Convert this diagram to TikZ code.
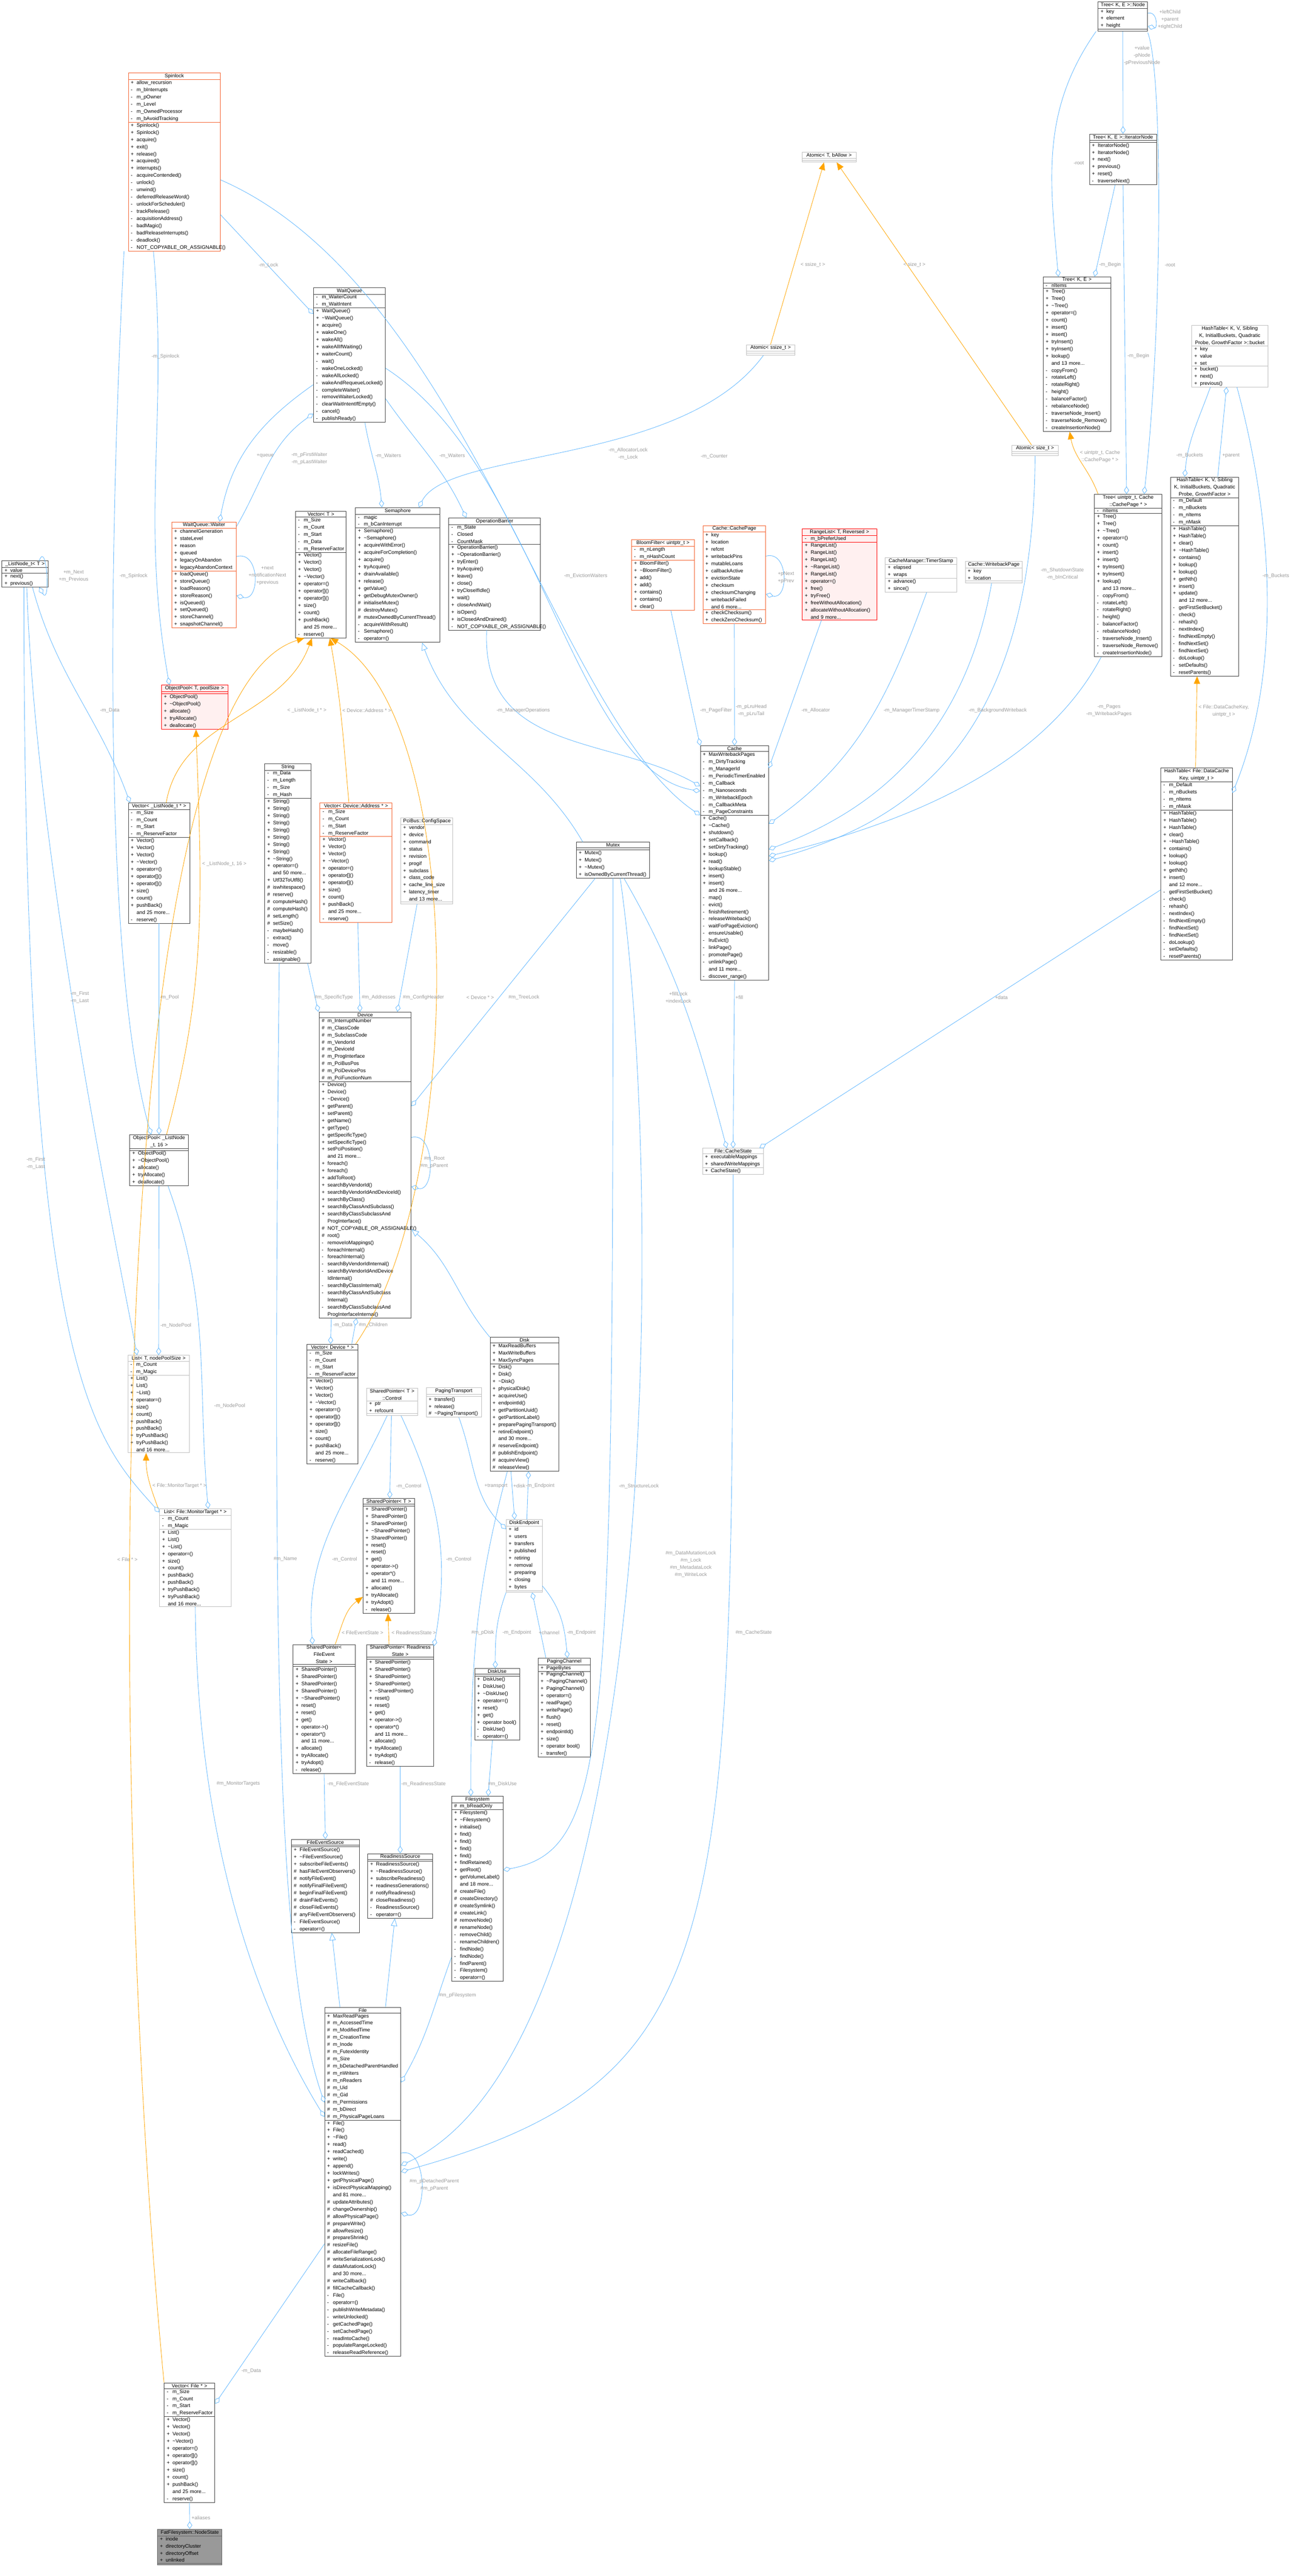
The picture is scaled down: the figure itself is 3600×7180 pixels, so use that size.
\documentclass[tikz,border=0pt]{standalone}
\usepackage{fontspec}
\setmainfont{Liberation Sans}
\usetikzlibrary{shapes.multipart,arrows.meta}

\definecolor{edgeblue}{HTML}{63B8FF}
\definecolor{edgeorange}{HTML}{FFA500}
\definecolor{lblgray}{HTML}{9A9A9A}
\definecolor{boxline}{HTML}{404040}
\definecolor{boxgray}{HTML}{BFBFBF}
\definecolor{boxhot}{HTML}{F4602C}
\definecolor{boxred}{HTML}{FF0000}
\definecolor{boxpink}{HTML}{FFF0F0}
\definecolor{boxfill}{HTML}{999999}
\definecolor{boxdark}{HTML}{666666}

\newcommand\clsfont{\fontsize{4}{5.69}\selectfont}
\newcommand\mytil{\textasciitilde}
\newcommand\mpu[1]{\makebox[4.6pt][l]{+}#1}
\newcommand\mpv[1]{\makebox[4.6pt][l]{-}#1}
\newcommand\mpt[1]{\makebox[4.6pt][l]{\#}#1}
\newcommand\mmo[1]{\makebox[4.6pt][l]{}#1}

% member lists that repeat
\newcommand\vecattrs{\mpv{m\_Size}\\\mpv{m\_Count}\\\mpv{m\_Start}\\\mpv{m\_ReserveFactor}}
\newcommand\vecmeths{\mpu{Vector()}\\\mpu{Vector()}\\\mpu{Vector()}\\\mpu{\mytil Vector()}\\\mpu{operator=()}\\\mpu{operator[]()}\\\mpu{operator[]()}\\\mpu{size()}\\\mpu{count()}\\\mpu{pushBack()}\\\mmo{and 25 more...}\\\mpv{reserve()}}
\newcommand\treemeths{\mpu{Tree()}\\\mpu{Tree()}\\\mpu{\mytil Tree()}\\\mpu{operator=()}\\\mpu{count()}\\\mpu{insert()}\\\mpu{insert()}\\\mpu{tryInsert()}\\\mpu{tryInsert()}\\\mpu{lookup()}\\\mmo{and 13 more...}\\\mpv{copyFrom()}\\\mpv{rotateLeft()}\\\mpv{rotateRight()}\\\mpv{height()}\\\mpv{balanceFactor()}\\\mpv{rebalanceNode()}\\\mpv{traverseNode\_Insert()}\\\mpv{traverseNode\_Remove()}\\\mpv{createInsertionNode()}}
\newcommand\htattrs{\mpv{m\_Default}\\\mpv{m\_nBuckets}\\\mpv{m\_nItems}\\\mpv{m\_nMask}}
\newcommand\httail{\mmo{and 12 more...}\\\mpv{getFirstSetBucket()}\\\mpv{check()}\\\mpv{rehash()}\\\mpv{nextIndex()}\\\mpv{findNextEmpty()}\\\mpv{findNextSet()}\\\mpv{findNextSet()}\\\mpv{doLookup()}\\\mpv{setDefaults()}\\\mpv{resetParents()}}
\newcommand\listmeths{\mpu{List()}\\\mpu{List()}\\\mpu{\mytil List()}\\\mpu{operator=()}\\\mpu{size()}\\\mpu{count()}\\\mpu{pushBack()}\\\mpu{pushBack()}\\\mpu{tryPushBack()}\\\mpu{tryPushBack()}\\\mmo{and 16 more...}}
\newcommand\sptail{\mpu{reset()}\\\mpu{reset()}\\\mpu{get()}\\\mpu{operator->()}\\\mpu{operator*()}\\\mmo{and 11 more...}\\\mpu{allocate()}\\\mpu{tryAllocate()}\\\mpu{tryAdopt()}\\\mpv{release()}}
\newcommand\poolmeths{\mpu{ObjectPool()}\\\mpu{\mytil ObjectPool()}\\\mpu{allocate()}\\\mpu{tryAllocate()}\\\mpu{deallocate()}}

% one class box: name, x, y, width (px), style, header, attributes, methods
\newcommand\cls[8]{%
  \pgfmathsetlengthmacro\clsw{#4*0.01cm-4pt}%
  \node[cls,#5,text width=\clsw] (#1) at (#2,#3)
    {\parbox{\clsw}{\centering #6}\nodepart{second}#7\nodepart{third}#8};}

\tikzset{
  cls/.style={rectangle split, rectangle split parts=3, draw=boxline, fill=white,
    line width=0.35pt, anchor=north west, inner xsep=2pt, inner ysep=0.6pt,
    align=left, font=\clsfont, rectangle split empty part height=0.12cm},
  hot/.style={draw=boxhot},
  trunc/.style={draw=boxred, fill=boxpink},
  undoc/.style={draw=boxgray},
  focus/.style={draw=boxdark, fill=boxfill},
  lbl/.style={font=\clsfont, text=lblgray, align=center, inner sep=0pt},
  comp/.style={draw=edgeblue, line width=0.35pt, -{Diamond[open,length=6pt,width=4pt]}},
  inh/.style={draw=edgeblue, line width=0.35pt, -{Triangle[open,length=6pt,width=5pt]}},
  tmpl/.style={draw=edgeorange, line width=0.35pt, -{Triangle[length=6pt,width=5pt]}}
}

\begin{document}
\begin{tikzpicture}[x=0.01cm,y=-0.01cm]
\useasboundingbox (0,0) rectangle (3600,7180);

% top row
\cls{spin}{357}{203}{256}{hot}{Spinlock}
 {\mpu{allow\_recursion}\\\mpv{m\_bInterrupts}\\\mpv{m\_pOwner}\\\mpv{m\_Level}\\\mpv{m\_OwnedProcessor}\\\mpv{m\_bAvoidTracking}}
 {\mpu{Spinlock()}\\\mpu{Spinlock()}\\\mpu{acquire()}\\\mpu{exit()}\\\mpu{release()}\\\mpu{acquired()}\\\mpu{interrupts()}\\\mpv{acquireContended()}\\\mpv{unlock()}\\\mpv{unwind()}\\\mpv{deferredReleaseWord()}\\\mpv{unlockForScheduler()}\\\mpv{trackRelease()}\\\mpv{acquisitionAddress()}\\\mpv{badMagic()}\\\mpv{badReleaseInterrupts()}\\\mpv{deadlock()}\\\mpv{NOT\_COPYABLE\_OR\_ASSIGNABLE()}}
\cls{waitq}{873}{801}{200}{}{WaitQueue}
 {\mpv{m\_WaiterCount}\\\mpv{m\_WaitIntent}}
 {\mpu{WaitQueue()}\\\mpu{\mytil WaitQueue()}\\\mpu{acquire()}\\\mpu{wakeOne()}\\\mpu{wakeAll()}\\\mpu{wakeAllIfWaiting()}\\\mpu{waiterCount()}\\\mpv{wait()}\\\mpv{wakeOneLocked()}\\\mpv{wakeAllLocked()}\\\mpv{wakeAndRequeueLocked()}\\\mpv{completeWaiter()}\\\mpv{removeWaiterLocked()}\\\mpv{clearWaitIntentIfEmpty()}\\\mpv{cancel()}\\\mpv{publishReady()}}
\cls{atomT}{2234}{423}{151}{undoc}{Atomic< T, bAllow >}{}{}
\cls{atomss}{2079}{960}{135}{undoc}{Atomic< ssize\_t >}{}{}
\cls{atoms}{2819}{1240}{129}{undoc}{Atomic< size\_t >}{}{}
\cls{tnode}{3059}{5}{138}{}{Tree< K, E >::Node}
 {\mpu{key}\\\mpu{element}\\\mpu{height}}{}
\cls{titer}{3035}{373}{187}{}{Tree< K, E >::IteratorNode}{}
 {\mpu{IteratorNode()}\\\mpu{IteratorNode()}\\\mpu{next()}\\\mpu{previous()}\\\mpu{reset()}\\\mpv{traverseNext()}}
\cls{tree}{2906}{771}{188}{}{Tree< K, E >}{\mpv{nItems}}{\treemeths}
\cls{bucket}{3320}{906}{212}{undoc}{HashTable< K, V, Sibling\\K, InitialBuckets, Quadratic\\Probe, GrowthFactor >::bucket}
 {\mpu{key}\\\mpu{value}\\\mpu{set}}{\mpu{bucket()}\\\mpu{next()}\\\mpu{previous()}}
\cls{treeu}{3049}{1377}{188}{}{Tree< uintptr\_t, Cache\\::CachePage * >}{\mpv{nItems}}{\treemeths}
\cls{htab}{3261}{1329}{190}{}{HashTable< K, V, Sibling\\K, InitialBuckets, Quadratic\\Probe, GrowthFactor >}{\htattrs}
 {\mpu{HashTable()}\\\mpu{HashTable()}\\\mpu{clear()}\\\mpu{\mytil HashTable()}\\\mpu{contains()}\\\mpu{lookup()}\\\mpu{lookup()}\\\mpu{getNth()}\\\mpu{insert()}\\\mpu{update()}\\\httail}
\cls{htabf}{3234}{2140}{199}{}{HashTable< File::DataCache\\Key, uintptr\_t >}{\htattrs}
 {\mpu{HashTable()}\\\mpu{HashTable()}\\\mpu{HashTable()}\\\mpu{clear()}\\\mpu{\mytil HashTable()}\\\mpu{contains()}\\\mpu{lookup()}\\\mpu{lookup()}\\\mpu{getNth()}\\\mpu{insert()}\\\httail}

% second row
\cls{lnode}{5}{1563}{128}{}{\_ListNode\_t< T >}{\mpu{value}}{\mpu{next()}\\\mpu{previous()}}
\cls{waiter}{478}{1454}{180}{hot}{WaitQueue::Waiter}
 {\mpu{channelGeneration}\\\mpu{stateLevel}\\\mpu{reason}\\\mpu{queued}\\\mpu{legacyOnAbandon}\\\mpu{legacyAbandonContext}}
 {\mpu{loadQueue()}\\\mpu{storeQueue()}\\\mpu{loadReason()}\\\mpu{storeReason()}\\\mpu{isQueued()}\\\mpu{setQueued()}\\\mpu{storeChannel()}\\\mpu{snapshotChannel()}}
\cls{vecT}{823}{1425}{141}{}{Vector< T >}
 {\mpv{m\_Size}\\\mpv{m\_Count}\\\mpv{m\_Start}\\\mpv{m\_Data}\\\mpv{m\_ReserveFactor}}{\vecmeths}
\cls{sema}{990}{1414}{235}{}{Semaphore}
 {\mpv{magic}\\\mpv{m\_bCanInterrupt}}
 {\mpu{Semaphore()}\\\mpu{\mytil Semaphore()}\\\mpu{acquireWithError()}\\\mpu{acquireForCompletion()}\\\mpu{acquire()}\\\mpu{tryAcquire()}\\\mpu{drainAvailable()}\\\mpu{release()}\\\mpu{getValue()}\\\mpu{getDebugMutexOwner()}\\\mpt{initialiseMutex()}\\\mpt{destroyMutex()}\\\mpt{mutexOwnedByCurrentThread()}\\\mpv{acquireWithResult()}\\\mpv{Semaphore()}\\\mpv{operator=()}}
\cls{opbar}{1250}{1443}{255}{}{OperationBarrier}
 {\mpv{m\_State}\\\mpv{Closed}\\\mpv{CountMask}}
 {\mpu{OperationBarrier()}\\\mpu{\mytil OperationBarrier()}\\\mpu{tryEnter()}\\\mpu{tryAcquire()}\\\mpu{leave()}\\\mpu{close()}\\\mpu{tryCloseIfIdle()}\\\mpu{wait()}\\\mpu{closeAndWait()}\\\mpu{isOpen()}\\\mpu{isClosedAndDrained()}\\\mpv{NOT\_COPYABLE\_OR\_ASSIGNABLE()}}
\cls{bloom}{1759}{1504}{175}{hot}{BloomFilter< uintptr\_t >}
 {\mpv{m\_nLength}\\\mpv{m\_nHashCount}}
 {\mpu{BloomFilter()}\\\mpu{\mytil BloomFilter()}\\\mpu{add()}\\\mpu{add()}\\\mpu{contains()}\\\mpu{contains()}\\\mpu{clear()}}
\cls{cpage}{1958}{1464}{175}{hot}{Cache::CachePage}
 {\mpu{key}\\\mpu{location}\\\mpu{refcnt}\\\mpu{writebackPins}\\\mpu{mutableLoans}\\\mpu{callbackActive}\\\mpu{evictionState}\\\mpu{checksum}\\\mpu{checksumChanging}\\\mpu{writebackFailed}\\\mmo{and 6 more...}}
 {\mpu{checkChecksum()}\\\mpu{checkZeroChecksum()}}
\cls{rlist}{2235}{1474}{207}{trunc}{RangeList< T, Reversed >}
 {\mpv{m\_bPreferUsed}}
 {\mpu{RangeList()}\\\mpu{RangeList()}\\\mpu{RangeList()}\\\mpu{\mytil RangeList()}\\\mpu{RangeList()}\\\mpu{operator=()}\\\mpu{free()}\\\mpu{tryFree()}\\\mpu{freeWithoutAllocation()}\\\mpu{allocateWithoutAllocation()}\\\mmo{and 9 more...}}
\cls{tstamp}{2466}{1554}{199}{undoc}{CacheManager::TimerStamp}
 {\mpu{elapsed}\\\mpu{wraps}}{\mpu{advance()}\\\mpu{since()}}
\cls{wbpage}{2689}{1564}{159}{undoc}{Cache::WritebackPage}
 {\mpu{key}\\\mpu{location}}{}

% third row
\cls{opool}{449}{1909}{185}{trunc}{ObjectPool< T, poolSize >}{}{\poolmeths}
\cls{veclist}{357}{2237}{171}{}{Vector< \_ListNode\_t * >}{\vecattrs}{\vecmeths}
\cls{string}{737}{2128}{129}{}{String}
 {\mpv{m\_Data}\\\mpv{m\_Length}\\\mpv{m\_Size}\\\mpv{m\_Hash}}
 {\mpu{String()}\\\mpu{String()}\\\mpu{String()}\\\mpu{String()}\\\mpu{String()}\\\mpu{String()}\\\mpu{String()}\\\mpu{String()}\\\mpu{\mytil String()}\\\mpu{operator=()}\\\mmo{and 50 more...}\\\mpu{Utf32ToUtf8()}\\\mpt{iswhitespace()}\\\mpt{reserve()}\\\mpt{computeHash()}\\\mpt{computeHash()}\\\mpt{setLength()}\\\mpt{setSize()}\\\mpv{maybeHash()}\\\mpv{extract()}\\\mpv{move()}\\\mpv{resizable()}\\\mpv{assignable()}}
\cls{vecaddr}{891}{2237}{201}{hot}{Vector< Device::Address * >}{\vecattrs}{\vecmeths}
\cls{cfg}{1116}{2279}{145}{undoc}{PciBus::ConfigSpace}
 {\mpu{vendor}\\\mpu{device}\\\mpu{command}\\\mpu{status}\\\mpu{revision}\\\mpu{progif}\\\mpu{subclass}\\\mpu{class\_code}\\\mpu{cache\_line\_size}\\\mpu{latency\_timer}\\\mmo{and 13 more...}}{}
\cls{mutex}{1605}{2347}{205}{}{Mutex}{}
 {\mpu{Mutex()}\\\mpu{Mutex()}\\\mpu{\mytil Mutex()}\\\mpu{isOwnedByCurrentThread()}}
\cls{cache}{1951}{2078}{190}{}{Cache}
 {\mpu{MaxWritebackPages}\\\mpv{m\_DirtyTracking}\\\mpv{m\_ManagerId}\\\mpv{m\_PeriodicTimerEnabled}\\\mpv{m\_Callback}\\\mpv{m\_Nanoseconds}\\\mpv{m\_WritebackEpoch}\\\mpv{m\_CallbackMeta}\\\mpv{m\_PageConstraints}}
 {\mpu{Cache()}\\\mpu{\mytil Cache()}\\\mpu{shutdown()}\\\mpu{setCallback()}\\\mpu{setDirtyTracking()}\\\mpu{lookup()}\\\mpu{read()}\\\mpu{lookupStable()}\\\mpu{insert()}\\\mpu{insert()}\\\mmo{and 26 more...}\\\mpv{map()}\\\mpv{evict()}\\\mpv{finishRetirement()}\\\mpv{releaseWriteback()}\\\mpv{waitForPageEviction()}\\\mpv{ensureUsable()}\\\mpv{lruEvict()}\\\mpv{linkPage()}\\\mpv{promotePage()}\\\mpv{unlinkPage()}\\\mmo{and 11 more...}\\\mpv{discover\_range()}}
\cls{opool16}{361}{3162}{163}{}{ObjectPool< \_ListNode\\\_t, 16 >}{}{\poolmeths}
\cls{device}{889}{2820}{256}{}{Device}
 {\mpt{m\_InterruptNumber}\\\mpt{m\_ClassCode}\\\mpt{m\_SubclassCode}\\\mpt{m\_VendorId}\\\mpt{m\_DeviceId}\\\mpt{m\_ProgInterface}\\\mpt{m\_PciBusPos}\\\mpt{m\_PciDevicePos}\\\mpt{m\_PciFunctionNum}}
 {\mpu{Device()}\\\mpu{Device()}\\\mpu{\mytil Device()}\\\mpu{getParent()}\\\mpu{setParent()}\\\mpu{getName()}\\\mpu{getType()}\\\mpu{getSpecificType()}\\\mpu{setSpecificType()}\\\mpu{setPciPosition()}\\\mmo{and 21 more...}\\\mpu{foreach()}\\\mpu{foreach()}\\\mpu{addToRoot()}\\\mpu{searchByVendorId()}\\\mpu{searchByVendorIdAndDeviceId()}\\\mpu{searchByClass()}\\\mpu{searchByClassAndSubclass()}\\\mpu{searchByClassSubclassAnd}\\\mmo{ProgInterface()}\\\mpt{NOT\_COPYABLE\_OR\_ASSIGNABLE()}\\\mpt{root()}\\\mpv{removeIoMappings()}\\\mpv{foreachInternal()}\\\mpv{foreachInternal()}\\\mpv{searchByVendorIdInternal()}\\\mpv{searchByVendorIdAndDevice}\\\mmo{IdInternal()}\\\mpv{searchByClassInternal()}\\\mpv{searchByClassAndSubclass}\\\mmo{Internal()}\\\mpv{searchByClassSubclassAnd}\\\mmo{ProgInterfaceInternal()}}
\cls{cstate}{1957}{3200}{170}{undoc}{File::CacheState}
 {\mpu{executableMappings}\\\mpu{sharedWriteMappings}}{\mpu{CacheState()}}

% fourth row
\cls{listT}{356}{3777}{171}{undoc}{List< T, nodePoolSize >}{\mpv{m\_Count}\\\mpv{m\_Magic}}{\listmeths}
\cls{vecdev}{855}{3746}{141}{}{Vector< Device * >}{\vecattrs}{\vecmeths}
\cls{ctrl}{1021}{3869}{142}{undoc}{SharedPointer< T >\\::Control}{\mpu{ptr}\\\mpu{refcount}}{}
\cls{ptrans}{1187}{3867}{154}{undoc}{PagingTransport}{}
 {\mpu{transfer()}\\\mpu{release()}\\\mpt{\mytil PagingTransport()}}
\cls{disk}{1365}{3727}{192}{}{Disk}
 {\mpu{MaxReadBuffers}\\\mpu{MaxWriteBuffers}\\\mpu{MaxSyncPages}}
 {\mpu{Disk()}\\\mpu{Disk()}\\\mpu{\mytil Disk()}\\\mpu{physicalDisk()}\\\mpu{acquireUse()}\\\mpu{endpointId()}\\\mpu{getPartitionUuid()}\\\mpu{getPartitionLabel()}\\\mpu{preparePagingTransport()}\\\mpu{retireEndpoint()}\\\mmo{and 30 more...}\\\mpt{reserveEndpoint()}\\\mpt{publishEndpoint()}\\\mpt{acquireView()}\\\mpt{releaseView()}}
\cls{listmt}{444}{4205}{199}{undoc}{List< File::MonitorTarget * >}{\mpv{m\_Count}\\\mpv{m\_Magic}}{\listmeths}
\cls{sptr}{1011}{4176}{143}{}{SharedPointer< T >}{}
 {\mpu{SharedPointer()}\\\mpu{SharedPointer()}\\\mpu{SharedPointer()}\\\mpu{\mytil SharedPointer()}\\\mpu{SharedPointer()}\\\sptail}
\cls{dend}{1410}{4235}{100}{undoc}{DiskEndpoint}
 {\mpu{id}\\\mpu{users}\\\mpu{transfers}\\\mpu{published}\\\mpu{retiring}\\\mpu{removal}\\\mpu{preparing}\\\mpu{closing}\\\mpu{bytes}}{}
\cls{spfe}{816}{4583}{173}{}{SharedPointer< FileEvent\\State >}{}
 {\mpu{SharedPointer()}\\\mpu{SharedPointer()}\\\mpu{SharedPointer()}\\\mpu{SharedPointer()}\\\mpu{\mytil SharedPointer()}\\\sptail}
\cls{sprd}{1021}{4583}{187}{}{SharedPointer< Readiness\\State >}{}
 {\mpu{SharedPointer()}\\\mpu{SharedPointer()}\\\mpu{SharedPointer()}\\\mpu{SharedPointer()}\\\mpu{\mytil SharedPointer()}\\\sptail}
\cls{duse}{1322}{4650}{125}{}{DiskUse}{}
 {\mpu{DiskUse()}\\\mpu{DiskUse()}\\\mpu{\mytil DiskUse()}\\\mpu{operator=()}\\\mpu{reset()}\\\mpu{get()}\\\mpu{operator bool()}\\\mpv{DiskUse()}\\\mpv{operator=()}}
\cls{pchan}{1499}{4621}{145}{}{PagingChannel}{\mpu{PageBytes}}
 {\mpu{PagingChannel()}\\\mpu{\mytil PagingChannel()}\\\mpu{PagingChannel()}\\\mpu{operator=()}\\\mpu{readPage()}\\\mpu{writePage()}\\\mpu{flush()}\\\mpu{reset()}\\\mpu{endpointId()}\\\mpu{size()}\\\mpu{operator bool()}\\\mpv{transfer()}}

% bottom rows
\cls{fes}{811}{5126}{190}{}{FileEventSource}{}
 {\mpu{FileEventSource()}\\\mpu{\mytil FileEventSource()}\\\mpu{subscribeFileEvents()}\\\mpt{hasFileEventObservers()}\\\mpt{notifyFileEvent()}\\\mpt{notifyFinalFileEvent()}\\\mpt{beginFinalFileEvent()}\\\mpt{drainFileEvents()}\\\mpt{closeFileEvents()}\\\mpt{anyFileEventObservers()}\\\mpv{FileEventSource()}\\\mpv{operator=()}}
\cls{rds}{1024}{5166}{181}{}{ReadinessSource}{}
 {\mpu{ReadinessSource()}\\\mpu{\mytil ReadinessSource()}\\\mpu{subscribeReadiness()}\\\mpu{readinessGenerations()}\\\mpt{notifyReadiness()}\\\mpt{closeReadiness()}\\\mpv{ReadinessSource()}\\\mpv{operator=()}}
\cls{fsys}{1258}{5006}{143}{}{Filesystem}{\mpt{m\_bReadOnly}}
 {\mpu{Filesystem()}\\\mpu{\mytil Filesystem()}\\\mpu{initialise()}\\\mpu{find()}\\\mpu{find()}\\\mpu{find()}\\\mpu{find()}\\\mpu{findRetained()}\\\mpu{getRoot()}\\\mpu{getVolumeLabel()}\\\mmo{and 18 more...}\\\mpt{createFile()}\\\mpt{createDirectory()}\\\mpt{createSymlink()}\\\mpt{createLink()}\\\mpt{removeNode()}\\\mpt{renameNode()}\\\mpv{removeChild()}\\\mpv{renameChildren()}\\\mpv{findNode()}\\\mpv{findNode()}\\\mpv{findParent()}\\\mpv{Filesystem()}\\\mpv{operator=()}}
\cls{file}{904}{5594}{212}{}{File}
 {\mpu{MaxReadPages}\\\mpt{m\_AccessedTime}\\\mpt{m\_ModifiedTime}\\\mpt{m\_CreationTime}\\\mpt{m\_Inode}\\\mpt{m\_FutexIdentity}\\\mpt{m\_Size}\\\mpt{m\_bDetachedParentHandled}\\\mpt{m\_nWriters}\\\mpt{m\_nReaders}\\\mpt{m\_Uid}\\\mpt{m\_Gid}\\\mpt{m\_Permissions}\\\mpt{m\_bDirect}\\\mpt{m\_PhysicalPageLoans}}
 {\mpu{File()}\\\mpu{File()}\\\mpu{\mytil File()}\\\mpu{read()}\\\mpu{readCached()}\\\mpu{write()}\\\mpu{append()}\\\mpu{lockWrites()}\\\mpu{getPhysicalPage()}\\\mpu{isDirectPhysicalMapping()}\\\mmo{and 81 more...}\\\mpt{updateAttributes()}\\\mpt{changeOwnership()}\\\mpt{allowPhysicalPage()}\\\mpt{prepareWrite()}\\\mpt{allowResize()}\\\mpt{prepareShrink()}\\\mpt{resizeFile()}\\\mpt{allocateFileRange()}\\\mpt{writeSerializationLock()}\\\mpt{dataMutationLock()}\\\mmo{and 30 more...}\\\mpt{writeCallback()}\\\mpt{fillCacheCallback()}\\\mpv{File()}\\\mpv{operator=()}\\\mpv{publishWriteMetadata()}\\\mpv{writeUnlocked()}\\\mpv{getCachedPage()}\\\mpv{setCachedPage()}\\\mpv{readIntoCache()}\\\mpv{populateRangeLocked()}\\\mpv{releaseReadReference()}}
\cls{vecfile}{457}{6641}{141}{}{Vector< File * >}{\vecattrs}{\vecmeths}
\cls{nstate}{438}{7049}{180}{focus}{FatFilesystem::NodeState}
 {\mpu{inode}\\\mpu{directoryCluster}\\\mpu{directoryOffset}\\\mpu{unlinked}}{}

% template and inheritance edges
\draw[tmpl] (atomss.north) -- ([xshift=-0.14cm]atomT.south);
\draw[tmpl] ([xshift=-0.1cm]atoms.north) -- ([xshift=0.21cm]atomT.south);
\draw[tmpl] ([xshift=-0.84cm]treeu.north) to[out=110,in=-80] ([xshift=-0.2cm]tree.south);
\draw[tmpl] ([xshift=-0.03cm]htabf.north) -- ([xshift=-0.21cm]htab.south);
\draw[tmpl] ([xshift=-0.2cm]vecaddr.north) to[out=95,in=-80] ([xshift=0.25cm]vecT.south);
\draw[tmpl] ([xshift=0.2cm]veclist.north) to[out=80,in=-110] ([xshift=-0.25cm]vecT.south);
\draw[tmpl] ([xshift=0.65cm]vecdev.north) .. controls (1300,3300) and (1300,2000) .. ([xshift=0.27cm]vecT.south);
\draw[tmpl] (vecfile.north west) .. controls (300,5000) and (280,1950) .. ([xshift=-0.46cm]vecT.south);
\draw[tmpl] ([xshift=0.21cm]opool16.north) to[out=75,in=-88] ([xshift=0.04cm]opool.south);
\draw[tmpl] ([xshift=-0.03cm]listmt.north west) to[out=110,in=-90] ([xshift=-0.35cm]listT.south);
\draw[tmpl] ([xshift=1.18cm]spfe.north west) to[out=70,in=-145] ([yshift=-2.75cm]sptr.north west);
\draw[tmpl] ([xshift=0.63cm]sprd.north west) -- ([xshift=0.7cm]sptr.south west);
\draw[inh] ([xshift=-0.84cm]mutex.north) to[out=120,in=-70] ([xshift=1.86cm]sema.south west);
\draw[inh] (disk.north west) to[out=130,in=-40] ([yshift=-6.06cm]device.north east);
\draw[inh] ([xshift=0.43cm]file.north west) -- ([xshift=0.18cm]fes.south);
\draw[inh] ([xshift=1.7cm]file.north west) -- ([xshift=-0.15cm]rds.south);

% member edges
\draw[comp] ([yshift=-3.95cm]spin.north east) -- ([yshift=-0.74cm]waitq.north west);
\draw[comp] ([xshift=-0.58cm]spin.south) to[out=-85,in=100] ([xshift=0.23cm]opool.north west);
\draw[comp] ([xshift=-1.4cm]spin.south) .. controls (300,1600) and (290,2700) .. ([xshift=0.6cm]opool16.north west);
\draw[comp] ([yshift=-2.98cm]spin.north east) .. controls (1300,800) and (1550,2000) .. ([yshift=-1.94cm]cache.north west);
\draw[comp] ([yshift=-2.25cm]waitq.north east) .. controls (1500,1300) and (1600,2150) .. ([yshift=-1.27cm]cache.north west);
\draw[comp] ([xshift=-0.22cm]opbar.south) .. controls (1340,2100) and (1700,2050) .. ([yshift=-1.13cm]cache.north west);
\draw[comp] ([xshift=0.43cm]waitq.south) to[out=-80,in=95] ([xshift=0.74cm]sema.north west);
\draw[comp] ([yshift=-3.1cm]waitq.north east) to[out=-55,in=115] ([xshift=0.49cm]opbar.north west);
\draw[comp] ([yshift=-0.13cm]waiter.north east) to[out=60,in=-145] ([yshift=-3.52cm]waitq.north west);
\draw[comp] ([yshift=-2.71cm]waitq.north west) to[out=-145,in=80] ([xshift=1.34cm]waiter.north west);
\draw[comp] ([yshift=-0.97cm]waiter.north east) to[out=15,in=-15,looseness=1.6] ([yshift=-2.06cm]waiter.north east);
\draw[comp] ([xshift=-0.25cm]lnode.north east) to[out=70,in=-60,looseness=2.2] ([xshift=-0.25cm]lnode.south east);
\draw[comp] ([xshift=-0.2cm]atomss.south) .. controls (1900,1300) and (1250,1250) .. ([xshift=1.77cm]sema.north west);
\draw[comp] (tnode.south) -- (titer.north);
\draw[comp] ([xshift=-0.05cm]tnode.south west) to[out=-125,in=95] ([xshift=0.43cm]tree.north west);
\draw[comp] ([xshift=-0.22cm]titer.south) -- ([xshift=1.44cm]tree.north west);
\draw[comp] ([yshift=-0.86cm]tnode.north east) .. controls (3240,200) and (3240,900) .. ([xshift=1.39cm]treeu.north west);
\draw[comp] (titer.south) -- ([xshift=0.9cm]treeu.north west);
\draw[comp] ([yshift=-0.32cm]tnode.north east) to[out=15,in=-15,looseness=2] ([yshift=-0.68cm]tnode.north east);
\draw[comp] ([xshift=-0.54cm]bucket.south) to[out=-110,in=85] ([xshift=0.4cm]htab.north west);
\draw[comp] ([xshift=1.32cm]htab.north west) -- ([xshift=-0.09cm]bucket.south);
\draw[comp] ([xshift=0.2cm]bucket.south) .. controls (3560,1500) and (3560,1900) .. ([yshift=-0.7cm]htabf.north east);
\draw[comp] (atoms.south) .. controls (2880,2100) and (2500,2300) .. ([yshift=-3.21cm]cache.north east);
\draw[comp] ([xshift=-0.75cm]treeu.south) .. controls (2900,2150) and (2500,2300) .. ([yshift=-3.08cm]cache.north east);
\draw[comp] ([xshift=-0.06cm]wbpage.south) to[out=-100,in=20] ([yshift=-2.89cm]cache.north east);
\draw[comp] ([xshift=0.16cm]tstamp.south) to[out=-110,in=35] ([yshift=-2.18cm]cache.north east);
\draw[comp] ([xshift=-0.5cm]rlist.south) -- ([yshift=-0.63cm]cache.north east);
\draw[comp] (cpage.south) -- (cache.north);
\draw[comp] ([xshift=0.22cm]bloom.south) -- (cache.north west);
\draw[comp] ([yshift=-0.86cm]cpage.north east) to[out=15,in=-15,looseness=1.6] ([yshift=-1.92cm]cpage.north east);
\draw[comp] ([xshift=-0.49cm]mutex.south) -- ([yshift=-2.63cm]device.north east);
\draw[comp] ([xshift=0.55cm]string.south) -- ([xshift=-0.02cm]device.north west);
\draw[comp] ([xshift=0.05cm]vecaddr.south) -- ([xshift=1.14cm]device.north west);
\draw[comp] ([xshift=-0.27cm]cfg.south) -- ([xshift=2.18cm]device.north west);
\draw[comp] ([xshift=0.21cm]lnode.south) to[out=-75,in=110] ([xshift=0.05cm]veclist.north west);
\draw[comp] (veclist.south) -- (opool16.north);
\draw[comp] ([xshift=0.05cm]lnode.south) .. controls (100,2400) and (330,3500) .. ([xshift=0.26cm]listT.north west);
\draw[comp] ([xshift=-0.03cm]lnode.south) .. controls (66,3800) and (250,4000) .. ([yshift=-0.1cm]listmt.north west);
\draw[comp] (opool16.south) -- (listT.north);
\draw[comp] ([xshift=0.25cm]opool16.south) to[out=-70,in=95] ([xshift=1.36cm]listmt.north west);
\draw[comp] ([yshift=-3.5cm]device.north east) to[out=15,in=-15,looseness=1.3] ([yshift=-4.87cm]device.north east);
\draw[comp] ([xshift=0.34cm]device.south west) -- ([xshift=0.66cm]vecdev.north west);
\draw[comp] ([xshift=1.25cm]vecdev.north west) -- ([xshift=1.04cm]device.south west);
\draw[comp] ([xshift=-0.02cm]ctrl.south) -- ([xshift=0.75cm]sptr.north west);
\draw[comp] ([xshift=-0.14cm]ctrl.south) to[out=-115,in=95] ([xshift=0.55cm]spfe.north west);
\draw[comp] ([xshift=0.25cm]ctrl.south) to[out=-65,in=80] ([yshift=-0.05cm]sprd.north east);
\draw[comp] ([xshift=0.14cm]ptrans.south) to[out=-70,in=135] ([yshift=-0.27cm]dend.north west);
\draw[comp] ([xshift=-0.38cm]disk.south) -- ([xshift=0.24cm]dend.north west);
\draw[comp] ([xshift=0.58cm]dend.north west) -- ([xshift=0.11cm]disk.south);
\draw[comp] ([xshift=-0.48cm]disk.south) to[out=-105,in=90] ([xshift=0.54cm]fsys.north west);
\draw[comp] (dend.south west) to[out=-110,in=90] ([xshift=0.58cm]duse.north west);
\draw[comp] ([xshift=0.22cm]pchan.north west) -- ([xshift=0.73cm]dend.south west);
\draw[comp] ([yshift=-1.85cm]dend.north east) to[out=-50,in=95] ([xshift=0.82cm]pchan.north west);
\draw[comp] (mutex.south) .. controls ([yshift=-24cm]mutex.south) and ([xshift=3cm,yshift=-1.5cm]fsys.north east) .. ([yshift=-2.06cm]fsys.north east);
\draw[comp] ([xshift=0.2cm]mutex.south) .. controls (1850,3300) and (1850,5700) .. ([yshift=-4.41cm]file.north east);
\draw[comp] (cstate.south) .. controls (2041,5400) and (2041,5800) .. ([yshift=-4.59cm]file.north east);
\draw[comp] ([xshift=0.3cm]mutex.south) to[out=-60,in=105] ([xshift=0.68cm]cstate.north west);
\draw[comp] (cache.south) -- (cstate.north);
\draw[comp] ([yshift=-3.4cm]htabf.north west) -- ([xshift=-0.12cm]cstate.north east);
\draw[comp] (spfe.south) -- (fes.north);
\draw[comp] (sprd.south) -- (rds.north);
\draw[comp] ([xshift=-0.13cm]duse.south) -- ([xshift=1.02cm]fsys.north west);
\draw[comp] ([yshift=-4.49cm]fsys.north west) to[out=-110,in=60] ([yshift=-2.1cm]file.north east);
\draw[comp] ([yshift=-4.07cm]file.north east) to[out=15,in=-15,looseness=1.2] ([yshift=-5.74cm]file.north east);
\draw[comp] (listmt.south) .. controls (550,5200) and (750,5650) .. ([yshift=-3.06cm]file.north west);
\draw[comp] ([xshift=-0.24cm]string.south) .. controls (756,4800) and (780,5500) .. ([yshift=-2.66cm]file.north west);
\draw[comp] ([yshift=-6.6cm]file.north west) -- ([yshift=-0.59cm]vecfile.north east);
\draw[comp] (vecfile.south) -- (nstate.north);

% edge labels
\node[lbl] (lbl_lock) at (748,739) {-m\_Lock};
\node[lbl] (lbl_spin1) at (461,993) {-m\_Spinlock};
\node[lbl] (lbl_spin2) at (372,1605) {-m\_Spinlock};
\node[lbl] (lbl_alloclock) at (1750,1265) {-m\_AllocatorLock\\-m\_Lock};
\node[lbl] (lbl_counter) at (1990,1272) {-m\_Counter};
\node[lbl] (lbl_evict) at (1632,1605) {-m\_EvictionWaiters};
\node[lbl] (lbl_mgrops) at (1458,1980) {-m\_ManagerOperations};
\node[lbl] (lbl_queue) at (739,1271) {+queue};
\node[lbl] (lbl_firstw) at (862,1278) {-m\_pFirstWaiter\\-m\_pLastWaiter};
\node[lbl] (lbl_waiters1) at (1082,1271) {-m\_Waiters};
\node[lbl] (lbl_waiters2) at (1260,1271) {-m\_Waiters};
\node[lbl] (lbl_next) at (745,1605) {+next\\+notificationNext\\+previous};
\node[lbl] (lbl_lnext) at (205,1605) {+m\_Next\\+m\_Previous};
\node[lbl] (lbl_ssize) at (2265,738) {< ssize\_t >};
\node[lbl] (lbl_size) at (2548,738) {< size\_t >};
\node[lbl] (lbl_value) at (3182,155) {+value\\-pNode\\-pPreviousNode};
\node[lbl] (lbl_child) at (3260,55) {+leftChild\\+parent\\+rightChild};
\node[lbl] (lbl_root1) at (3006,455) {-root};
\node[lbl] (lbl_begin1) at (3093,738) {-m\_Begin};
\node[lbl] (lbl_root2) at (3260,738) {-root};
\node[lbl] (lbl_begin2) at (3172,992) {-m\_Begin};
\node[lbl] (lbl_treeu) at (3065,1272) {< uintptr\_t, Cache\\::CachePage * >};
\node[lbl] (lbl_buckets1) at (3315,1270) {-m\_Buckets};
\node[lbl] (lbl_parent) at (3430,1270) {+parent};
\node[lbl] (lbl_buckets2) at (3555,1605) {-m\_Buckets};
\node[lbl] (lbl_htabf) at (3410,1982) {< File::DataCacheKey,\\uintptr\_t >};
\node[lbl] (lbl_shutdown) at (2960,1600) {-m\_ShutdownState\\-m\_bInCritical};
\node[lbl] (lbl_pages) at (3090,1980) {-m\_Pages\\-m\_WritebackPages};
\node[lbl] (lbl_bgwb) at (2780,1980) {-m\_BackgroundWriteback};
\node[lbl] (lbl_timer) at (2540,1980) {-m\_ManagerTimerStamp};
\node[lbl] (lbl_alloc) at (2273,1980) {-m\_Allocator};
\node[lbl] (lbl_lru) at (2093,1980) {-m\_pLruHead\\-m\_pLruTail};
\node[lbl] (lbl_filter) at (1995,1980) {-m\_PageFilter};
\node[lbl] (lbl_pnext) at (2190,1610) {+pNext\\+pPrev};
\node[lbl] (lbl_data1) at (306,1980) {-m\_Data};
\node[lbl] (lbl_vlist) at (855,1980) {< \_ListNode\_t * >};
\node[lbl] (lbl_vaddr) at (1022,1980) {< Device::Address * >};
\node[lbl] (lbl_pool16) at (625,2408) {< \_ListNode\_t, 16 >};
\node[lbl] (lbl_first1) at (222,2780) {-m\_First\\-m\_Last};
\node[lbl] (lbl_pool) at (472,2780) {-m\_Pool};
\node[lbl] (lbl_first2) at (100,3243) {-m\_First\\-m\_Last};
\node[lbl] (lbl_spec) at (930,2780) {\#m\_SpecificType};
\node[lbl] (lbl_addr) at (1055,2780) {\#m\_Addresses};
\node[lbl] (lbl_cfg) at (1180,2780) {\#m\_ConfigHeader};
\node[lbl] (lbl_vdev) at (1338,2780) {< Device * >};
\node[lbl] (lbl_tree) at (1460,2780) {\#m\_TreeLock};
\node[lbl] (lbl_root3) at (1210,3240) {\#m\_Root\\\#m\_pParent};
\node[lbl] (lbl_filllock) at (1890,2780) {+fillLock\\+indexLock};
\node[lbl] (lbl_fill) at (2060,2780) {+fill};
\node[lbl] (lbl_data2) at (2790,2780) {+data};
\node[lbl] (lbl_data3) at (955,3693) {-m\_Data};
\node[lbl] (lbl_children) at (1040,3693) {\#m\_Children};
\node[lbl] (lbl_nodepool1) at (490,3694) {-m\_NodePool};
\node[lbl] (lbl_nodepool2) at (640,3918) {-m\_NodePool};
\node[lbl] (lbl_monitor) at (500,4142) {< File::MonitorTarget * >};
\node[lbl] (lbl_vfile) at (355,4346) {< File * >};
\node[lbl] (lbl_name) at (795,4346) {\#m\_Name};
\node[lbl] (lbl_ctrl1) at (1139,4142) {-m\_Control};
\node[lbl] (lbl_ctrl2) at (960,4347) {-m\_Control};
\node[lbl] (lbl_ctrl3) at (1278,4347) {-m\_Control};
\node[lbl] (lbl_fesT) at (1010,4550) {< FileEventState >};
\node[lbl] (lbl_rdsT) at (1153,4550) {< ReadinessState >};
\node[lbl] (lbl_transport) at (1382,4142) {+transport};
\node[lbl] (lbl_disk) at (1447,4142) {+disk};
\node[lbl] (lbl_endp1) at (1505,4142) {-m\_Endpoint};
\node[lbl] (lbl_pdisk) at (1345,4550) {\#m\_pDisk};
\node[lbl] (lbl_endp2) at (1440,4550) {-m\_Endpoint};
\node[lbl] (lbl_channel) at (1530,4550) {+channel};
\node[lbl] (lbl_endp3) at (1620,4550) {-m\_Endpoint};
\node[lbl] (lbl_struct) at (1780,4142) {-m\_StructureLock};
\node[lbl] (lbl_locks) at (1925,4360) {\#m\_DataMutationLock\\\#m\_Lock\\\#m\_MetadataLock\\\#m\_WriteLock};
\node[lbl] (lbl_cstate) at (2100,4550) {\#m\_CacheState};
\node[lbl] (lbl_mtargets) at (664,4972) {\#m\_MonitorTargets};
\node[lbl] (lbl_festate) at (970,4972) {-m\_FileEventState};
\node[lbl] (lbl_rdstate) at (1180,4972) {-m\_ReadinessState};
\node[lbl] (lbl_duse) at (1400,4972) {\#m\_DiskUse};
\node[lbl] (lbl_pfs) at (1275,5561) {\#m\_pFilesystem};
\node[lbl] (lbl_pparent) at (1210,6090) {\#m\_pDetachedParent\\\#m\_pParent};
\node[lbl] (lbl_data4) at (700,6608) {-m\_Data};
\node[lbl] (lbl_aliases) at (560,7017) {+aliases};
\end{tikzpicture}
\end{document}
